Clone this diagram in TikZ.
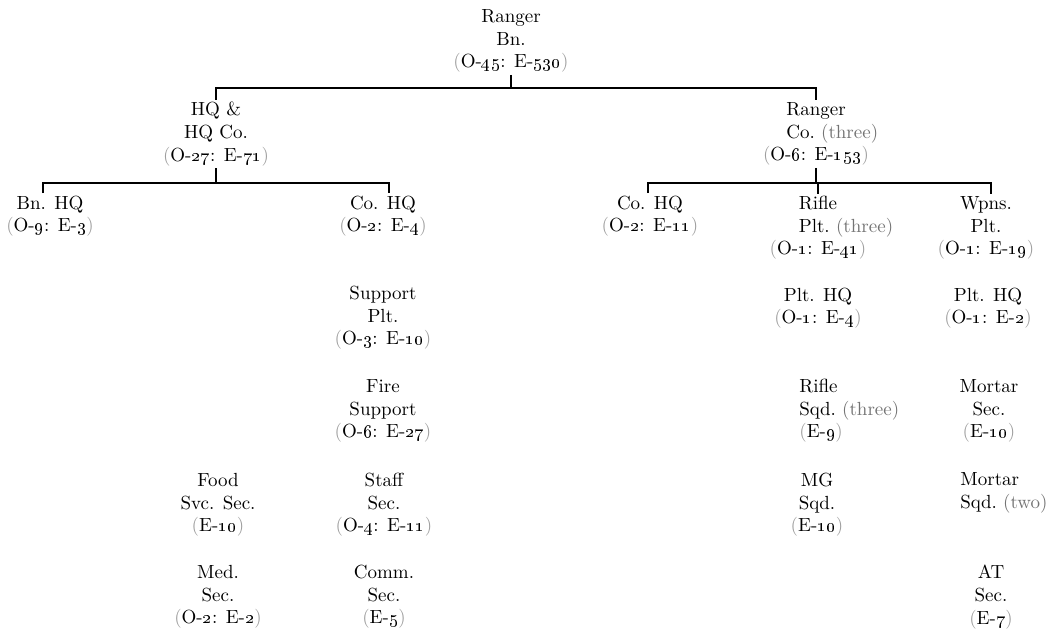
\documentclass[tikz,border=0pt]{standalone}
\usepackage{calc}
\usepackage{tikz}

\definecolor{paren}{gray}{0.62}
\definecolor{tally}{gray}{0.45}
\newcommand{\pp}[1]{\textcolor{paren}{(}#1\textcolor{paren}{)}}
\newcommand{\strn}[2]{\pp{O-\oldstylenums{#1}: E-\oldstylenums{#2}}}
\newcommand{\enl}[1]{\pp{E-\oldstylenums{#1}}}
\newcommand{\many}[1]{\ \textcolor{tally}{(#1)}}
\newcommand{\leftunder}[2]{\makebox[\widthof{#1}][l]{#2}}

\begin{document}
\begin{tikzpicture}[x=0.5pt,y=-0.5pt]
        \tikzset{unit/.style = {align=center,inner sep=1pt,font=\fontsize{9.5pt}{11.3pt}\selectfont}}
        \tikzset{unitl/.style = {unit,align=left,anchor=west}}
        \tikzset{link/.style = {-,line width=0.9pt}}
        \useasboundingbox (0,0) rectangle (1046,629);

        % battalion and its two branches
        \node[unit] (rbn) at (511, 41) {Ranger\\Bn.\\\strn{45}{530}};
        \node[unit] (hqco) at (216, 134) {HQ \&\\HQ Co.\\\strn{27}{71}};
        \node[unit] (rco) at (816, 134) {Ranger\\\leftunder{Ranger}{Co.\rlap{\many{three}}}\\\strn{6}{153}};

        % HQ & HQ Co.
        \node[unit] (bnhq) at (50, 216) {Bn. HQ\\\strn{9}{3}};
        \node[unit] (cohq) at (383, 216) {Co. HQ\\\strn{2}{4}};
        \node[unit] (supplt) at (383, 318) {Support\\Plt.\\\strn{3}{10}};
        \node[unit] (firesup) at (383, 411) {Fire\\Support\\\strn{6}{27}};
        \node[unit] (foodsec) at (218, 505) {Food\\Svc. Sec.\\\enl{10}};
        \node[unit] (staffsec) at (384, 505) {Staff\\Sec.\\\strn{4}{11}};
        \node[unit] (medsec) at (218, 597) {Med.\\Sec.\\\strn{2}{2}};
        \node[unit] (commsec) at (384, 597) {Comm.\\Sec.\\\enl{5}};

        % Ranger Co.
        \node[unit] (rcohq) at (650, 216) {Co. HQ\\\strn{2}{11}};
        \node[unit] (rplt) at (818, 228) {Rifle\\\leftunder{Rifle}{Plt.\rlap{\many{three}}}\\\strn{1}{41}};
        \node[unit] (wplt) at (986, 228) {Wpns.\\Plt.\\\strn{1}{19}};
        \node[unit] (rplthq) at (818, 308) {Plt. HQ\\\strn{1}{4}};
        \node[unit] (wplthq) at (988, 308) {Plt. HQ\\\strn{1}{2}};
        \node[unitl] (rsqd) at (797, 411) {Rifle\\Sqd.\many{three}\\\enl{9}};
        \node[unit] (mortsec) at (989, 411) {Mortar\\Sec.\\\enl{10}};
        \node[unit] (mgsqd) at (817, 505) {MG\\Sqd.\\\enl{10}};
        \node[unitl] (mortsqd) at (958, 493) {Mortar\\Sqd.\many{two}};
        \node[unit] (atsec) at (991, 597) {AT\\Sec.\\\enl{7}};

        \coordinate (bnbar) at (511, 88);
        \coordinate (hqbar) at (216, 183);
        \coordinate (cobar) at (817, 183);

        \draw[link] (rbn.south) to (bnbar);
        \draw[link] (hqco.north) |- (bnbar) -| (rco.north);

        \draw[link] (hqco.south) to (hqbar);
        \draw[link] ([xshift=-3.5pt]bnhq.north) |- (hqbar) -| ([xshift=3pt]cohq.north);

        \draw[link] (rco.south |- rco.south) to (rco.south |- cobar);
        \draw[link] ([xshift=-1pt]rcohq.north) |- (cobar) -| ([xshift=2.5pt]wplt.north);
        \draw[link] (rplt.north) to (rplt.north |- cobar);
      \end{tikzpicture}
\end{document}
